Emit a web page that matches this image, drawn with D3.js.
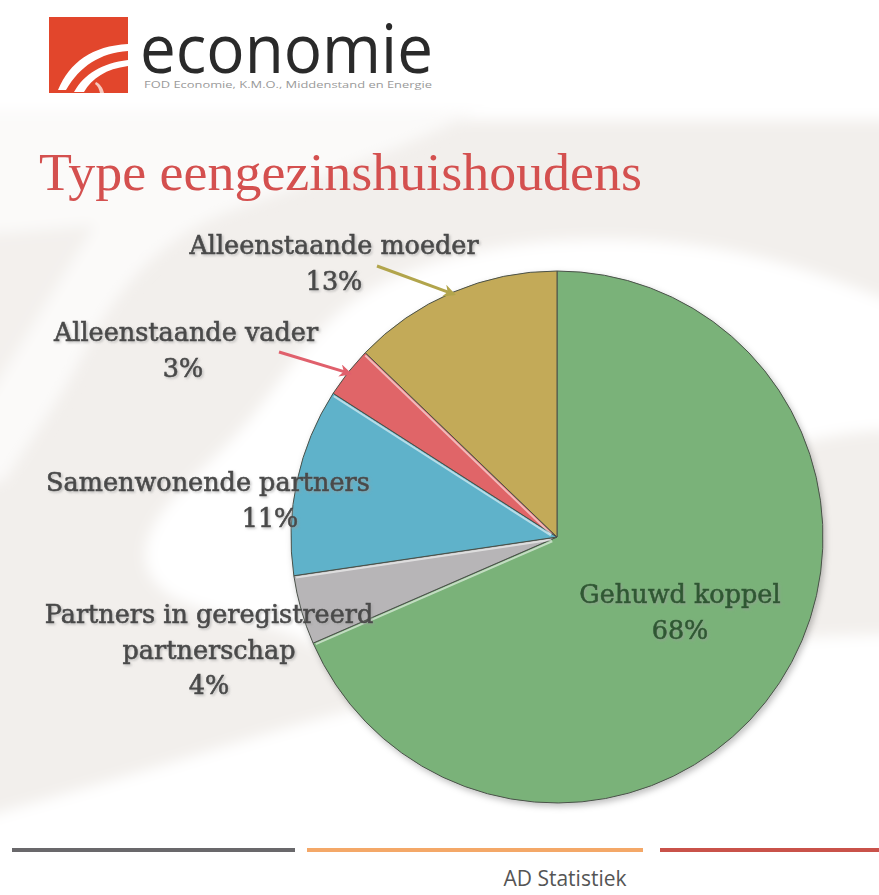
<!DOCTYPE html>
<html>
<head>
<meta charset="utf-8">
<script src="https://cdn.jsdelivr.net/npm/d3@7"></script>
<style>
  html, body { margin: 0; padding: 0; background: #ffffff; }
  svg { display: block; }
</style>
</head>
<body>
<div id="chart"></div>
<script>
// ---------------- DATA ----------------
const categories = [
  "Gehuwd koppel",
  "Partners in geregistreerd partnerschap",
  "Samenwonende partners",
  "Alleenstaande vader",
  "Alleenstaande moeder"
];
const values = [68.4, 4.2, 11.4, 3.1, 12.8];
const sliceColors = ["#7ab279", "#b7b5b7", "#5fb2ca", "#e06567", "#c3aa58"];
const titleText = "Type eengezinshuishoudens";
const brandText = "economie";
const brandSubText = "FOD Economie, K.M.O., Middenstand en Energie";
const footerText = "AD Statistiek";

// ---------------- LAYOUT ----------------
const W = 879, H = 895;
const cx = 557, cy = 537, R = 266;
const fmt = v => d3.format(".0f")(v) + "%";

const labelLayout = {
  "Gehuwd koppel": { lines: ["Gehuwd koppel"], x: 680, y: 603, color: "#2e5832", pctDx: 0 },
  "Partners in geregistreerd partnerschap": { lines: ["Partners in geregistreerd", "partnerschap"], x: 209, y: 623, color: "#4a4a4a", pctDx: 0 },
  "Samenwonende partners": { lines: ["Samenwonende partners"], x: 208, y: 491, color: "#4a4a4a", pctDx: 62 },
  "Alleenstaande vader": { lines: ["Alleenstaande vader"], x: 186, y: 341, color: "#4a4a4a", pctDx: -3 },
  "Alleenstaande moeder": { lines: ["Alleenstaande moeder"], x: 334, y: 254, color: "#4a4a4a", pctDx: 0 }
};
const lineStep = 35.5;
const arrows = {
  "Alleenstaande vader": { from: [279, 352], color: "#e0606c" },
  "Alleenstaande moeder": { from: [377, 266], color: "#b2a54c" }
};

const svg = d3.select("#chart").append("svg")
  .attr("width", W).attr("height", H)
  .attr("viewBox", `0 0 ${W} ${H}`);

const defs = svg.append("defs");
defs.append("filter").attr("id", "bgblur").attr("x", "-20%").attr("y", "-20%").attr("width", "140%").attr("height", "140%")
  .append("feGaussianBlur").attr("stdDeviation", 7);
const ps = defs.append("filter").attr("id", "pieshadow").attr("x", "-10%").attr("y", "-10%").attr("width", "120%").attr("height", "120%");
ps.append("feDropShadow").attr("dx", 2).attr("dy", 3).attr("stdDeviation", 3)
  .attr("flood-color", "#000").attr("flood-opacity", 0.25);
const ts = defs.append("filter").attr("id", "textshadow").attr("x", "-10%").attr("y", "-30%").attr("width", "120%").attr("height", "160%");
ts.append("feDropShadow").attr("dx", 1.5).attr("dy", 1.5).attr("stdDeviation", 1)
  .attr("flood-color", "#9a9a9a").attr("flood-opacity", 0.55);
defs.selectAll("marker").data(Object.keys(arrows)).enter().append("marker")
  .attr("id", (d, i) => "arrow" + i)
  .attr("viewBox", "0 0 10 10").attr("refX", 8).attr("refY", 5)
  .attr("markerWidth", 4.2).attr("markerHeight", 4.2).attr("orient", "auto")
  .append("path").attr("d", "M0,0 L10,5 L0,10 L3,5 Z")
  .attr("fill", d => arrows[d].color);

// ---------------- BACKGROUND ----------------
const bg = svg.append("g");
bg.append("rect").attr("width", W).attr("height", H).attr("fill", "#f2efec");
const wg = bg.append("g").attr("filter", "url(#bgblur)");
wg.append("rect").attr("x", -20).attr("y", -20).attr("width", W + 40).attr("height", 140).attr("fill", "#fff");
// light region behind the title, left of the diagonal
wg.append("path")
  .attr("d", "M-30,110 L480,110 C400,150 300,185 220,215 C150,245 110,300 80,360 C60,400 30,440 5,480 L-30,490 Z")
  .attr("fill", "#fbfaf9");
// slightly grey wedge at far left
wg.append("path")
  .attr("d", "M-30,235 C20,232 60,228 95,225 C60,280 30,330 -10,395 L-30,400 Z")
  .attr("fill", "#f3f0ed");
// white swoosh around the pie
const curve = d3.line().curve(d3.curveBasis);
const ringPts = [[900, 305], [760, 250], [600, 234], [455, 250], [345, 296], [285, 372], [238, 438], [160, 505],
  [136, 560], [168, 605], [265, 622], [325, 650], [420, 700], [557, 540], [700, 470], [835, 432], [900, 430]];
wg.append("path").attr("d", curve(ringPts) + "Z").attr("fill", "#fff");
const botPts = [[-20, 818], [150, 770], [333, 712], [557, 660], [800, 636], [900, 634]];
wg.append("path").attr("d", curve(botPts) + "L900,920 L-20,920 Z").attr("fill", "#fff");

// ---------------- LOGO ----------------
const logo = svg.append("g");
logo.append("rect").attr("x", 49).attr("y", 17).attr("width", 79).attr("height", 76).attr("fill", "#e2462c");
logo.append("path")
  .attr("d", "M58,90 C70,62 92,46 128,44 L128,51 C100,53 80,66 66,90 Z")
  .attr("fill", "#fff");
logo.append("path")
  .attr("d", "M74,92 C84,74 102,63 128,60 L128,66 C106,69 92,78 84,92 Z")
  .attr("fill", "#fff");
logo.append("path")
  .attr("d", "M96,82 C100,84 103,88 104,93 L100,93 C99,89 98,86 95,84 Z")
  .attr("fill", "#f7c9bd");
logo.append("text")
  .attr("transform", "translate(140,73) scale(1,1.12)")
  .attr("font-family", "'Open Sans', sans-serif").attr("font-size", 60)
  .attr("fill", "#2a2a2a").attr("textLength", 293).attr("lengthAdjust", "spacingAndGlyphs")
  .text(brandText);
logo.append("text").attr("x", 144).attr("y", 88)
  .attr("font-family", "'Open Sans', sans-serif").attr("font-size", 8.5)
  .attr("fill", "#9a9a9a").attr("textLength", 288).attr("lengthAdjust", "spacingAndGlyphs")
  .text(brandSubText);

// ---------------- TITLE ----------------
svg.append("text").attr("x", 39).attr("y", 190)
  .attr("font-family", "'Liberation Serif', 'DejaVu Serif', serif").attr("font-size", 52)
  .attr("fill", "#d4504f").attr("textLength", 603).attr("lengthAdjust", "spacingAndGlyphs")
  .text(titleText);

// ---------------- PIE ----------------
const pie = d3.pie().sort(null).value(d => d.value);
const arcs = pie(categories.map((c, i) => ({ cat: c, value: values[i], color: sliceColors[i] })));
const arcGen = d3.arc().innerRadius(0).outerRadius(R);
const pg = svg.append("g").attr("transform", `translate(${cx},${cy})`).attr("filter", "url(#pieshadow)");
pg.selectAll("path.slice").data(arcs).enter().append("path")
  .attr("class", "slice")
  .attr("d", arcGen)
  .attr("fill", d => d.data.color)
  .attr("stroke", "#4a5149").attr("stroke-width", 1)
  .attr("stroke-linejoin", "round");
pg.selectAll("line.bevel").data(arcs.slice(1)).enter().append("line")
  .attr("x1", d => 6 * Math.sin(d.startAngle)).attr("y1", d => -6 * Math.cos(d.startAngle))
  .attr("x2", d => (R - 2) * Math.sin(d.startAngle)).attr("y2", d => -(R - 2) * Math.cos(d.startAngle))
  .attr("stroke", "#ffffff").attr("stroke-opacity", 0.55).attr("stroke-width", 2)
  .attr("transform", d => `translate(${-2 * Math.cos(d.startAngle)},${-2 * Math.sin(d.startAngle)})`);

// ---------------- ARROWS ----------------
Object.keys(arrows).forEach((cat, i) => {
  const a = arcs.find(d => d.data.cat === cat);
  const mid = (a.startAngle + a.endAngle) / 2;
  const tip = [cx + (R - 2) * Math.sin(mid), cy - (R - 2) * Math.cos(mid)];
  svg.append("line")
    .attr("x1", arrows[cat].from[0]).attr("y1", arrows[cat].from[1])
    .attr("x2", tip[0]).attr("y2", tip[1])
    .attr("stroke", arrows[cat].color).attr("stroke-width", 3)
    .attr("marker-end", `url(#arrow${i})`);
});

// ---------------- LABELS ----------------
const lg = svg.append("g").attr("filter", "url(#textshadow)");
arcs.forEach(a => {
  const L = labelLayout[a.data.cat];
  const t = lg.append("text")
    .attr("font-family", "'DejaVu Serif', serif").attr("font-size", 25.5)
    .attr("fill", L.color).attr("stroke", L.color).attr("stroke-width", 0.6)
    .attr("text-anchor", "middle");
  L.lines.forEach((ln, j) => {
    t.append("tspan").attr("x", L.x).attr("y", L.y + j * lineStep).text(ln);
  });
  t.append("tspan").attr("x", L.x + L.pctDx).attr("y", L.y + L.lines.length * lineStep).text(fmt(a.data.value));
});

// ---------------- FOOTER ----------------
const footerLines = [
  { x1: 12, x2: 295, color: "#69686b" },
  { x1: 307, x2: 643, color: "#f4a868" },
  { x1: 660, x2: 879, color: "#c9524a" }
];
svg.selectAll("line.foot").data(footerLines).enter().append("line")
  .attr("class", "foot")
  .attr("x1", d => d.x1).attr("x2", d => d.x2).attr("y1", 850).attr("y2", 850)
  .attr("stroke", d => d.color).attr("stroke-width", 4);
svg.append("text").attr("x", 565).attr("y", 886).attr("text-anchor", "middle")
  .attr("font-family", "'Open Sans', sans-serif").attr("font-size", 21)
  .attr("fill", "#555").text(footerText);
</script>
</body>
</html>
